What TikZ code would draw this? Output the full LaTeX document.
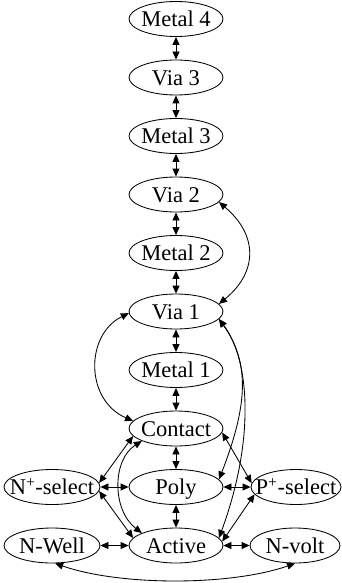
\documentclass[tikz,border=0pt]{standalone}
\usepackage{fontspec}
\setmainfont{Liberation Serif}
\usetikzlibrary{shapes.geometric,arrows.meta}
\newcommand\nlab[1]{\makebox[0pt]{\smash{\raisebox{-7.6pt}{#1}}}}
\tikzset{
  lay/.style={ellipse, draw, line width=0.85pt, minimum width=94pt, minimum height=35pt, inner sep=0pt, font=\fontsize{22.5}{25}\selectfont},
  con/.style={{Triangle[length=8pt,width=7pt]}-{Triangle[length=8pt,width=7pt]}, line width=0.85pt}
}
\begin{document}
\begin{tikzpicture}[x=1pt,y=-1pt]
\useasboundingbox (0,0) rectangle (342,583);
\node[lay] (m4) at (176,19) {\nlab{Metal 4}};
\node[lay] (v3) at (176,77.5) {\nlab{Via 3}};
\node[lay] (m3) at (176,136) {\nlab{Metal 3}};
\node[lay] (v2) at (176,194.5) {\nlab{Via 2}};
\node[lay] (m2) at (176,253) {\nlab{Metal 2}};
\node[lay] (v1) at (176,311.5) {\nlab{Via 1}};
\node[lay] (m1) at (176,370) {\nlab{Metal 1}};
\node[lay] (ct) at (176,428.5) {\nlab{Contact}};
\node[lay] (po) at (176,487) {\nlab{Poly}};
\node[lay] (ac) at (176,545.5) {\nlab{Active}};
\node[lay, minimum width=96pt] (np) at (52,487) {\nlab{N\textsuperscript{+}-select}};
\node[lay, minimum width=90pt] (pp) at (296,487) {\nlab{P\textsuperscript{+}-select}};
\node[lay, minimum width=96pt] (nw) at (52,545.5) {\nlab{N-Well}};
\node[lay, minimum width=90pt] (nv) at (295,545.5) {\nlab{N-volt}};
% vertical chain
\draw[con] (m4) -- (v3);
\draw[con] (v3) -- (m3);
\draw[con] (m3) -- (v2);
\draw[con] (v2) -- (m2);
\draw[con] (m2) -- (v1);
\draw[con] (v1) -- (m1);
\draw[con] (m1) -- (ct);
\draw[con] (ct) -- (po);
\draw[con] (po) -- (ac);
% long curves
\draw[con] (v2.-10) .. controls (258,235) and (258,272) .. (v1.10);
\draw[con] (v1.182) .. controls (85,335) and (85,400) .. (ct.170);
\draw[con] (v1.-10) .. controls (248,360) and (250,400) .. (po.10);
\draw[con] (v1.-10) .. controls (250,360) and (255,440) .. (ac.10);
% right side
\draw[con] (ct.-5) -- (pp.175);
\draw[con] (pp.190) -- (ac.5);
\draw[con] (po) -- (pp);
\draw[con] (ac) -- (nv);
% left side
\draw[con] (ct.190) -- (np.5);
\draw[con] (ct.200) .. controls (112,460) and (112,510) .. (ac.160);
\draw[con] (np.-5) -- (ac.170);
\draw[con] (np) -- (po);
\draw[con] (nw) -- (ac);
% bottom
\draw[con] (nw.-80) .. controls (120,586) and (230,586) .. (nv.-90);
\end{tikzpicture}
\end{document}
